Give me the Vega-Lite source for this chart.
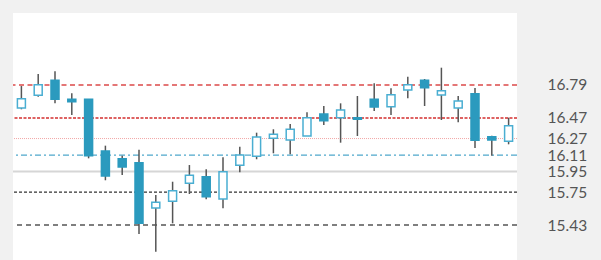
{
  "$schema": "https://vega.github.io/schema/vega-lite/v6.json",
  "autosize": {"type": "none"},
  "padding": {"left": 13, "top": 13, "right": 84, "bottom": 0},
  "width": 504,
  "height": 247,
  "background": "#f1f1f1",
  "config": {"view": {"fill": "white", "stroke": null}},
  "datasets": {
    "candles": [
      {"d": 1, "o": 16.567, "h": 16.78, "l": 16.554, "c": 16.657},
      {"d": 2, "o": 16.69, "h": 16.897, "l": 16.676, "c": 16.793},
      {"d": 3, "o": 16.836, "h": 16.923, "l": 16.612, "c": 16.651},
      {"d": 4, "o": 16.651, "h": 16.709, "l": 16.499, "c": 16.628},
      {"d": 5, "o": 16.651, "h": 16.651, "l": 16.078, "c": 16.104},
      {"d": 6, "o": 16.149, "h": 16.201, "l": 15.865, "c": 15.906},
      {"d": 7, "o": 16.074, "h": 16.104, "l": 15.916, "c": 15.994},
      {"d": 8, "o": 16.036, "h": 16.162, "l": 15.343, "c": 15.447},
      {"d": 9, "o": 15.596, "h": 15.722, "l": 15.172, "c": 15.651},
      {"d": 10, "o": 15.661, "h": 15.851, "l": 15.447, "c": 15.764},
      {"d": 11, "o": 15.836, "h": 16.013, "l": 15.732, "c": 15.913},
      {"d": 12, "o": 15.9, "h": 15.972, "l": 15.68, "c": 15.706},
      {"d": 13, "o": 15.683, "h": 16.088, "l": 15.593, "c": 15.948},
      {"d": 14, "o": 16.011, "h": 16.191, "l": 15.943, "c": 16.111},
      {"d": 15, "o": 16.098, "h": 16.327, "l": 16.069, "c": 16.285},
      {"d": 16, "o": 16.273, "h": 16.36, "l": 16.127, "c": 16.311},
      {"d": 17, "o": 16.256, "h": 16.411, "l": 16.117, "c": 16.36},
      {"d": 18, "o": 16.295, "h": 16.525, "l": 16.295, "c": 16.473},
      {"d": 19, "o": 16.508, "h": 16.586, "l": 16.402, "c": 16.443},
      {"d": 20, "o": 16.473, "h": 16.612, "l": 16.23, "c": 16.547},
      {"d": 21, "o": 16.473, "h": 16.683, "l": 16.295, "c": 16.457},
      {"d": 22, "o": 16.651, "h": 16.806, "l": 16.538, "c": 16.576},
      {"d": 23, "o": 16.579, "h": 16.758, "l": 16.499, "c": 16.696},
      {"d": 24, "o": 16.741, "h": 16.871, "l": 16.661, "c": 16.793},
      {"d": 25, "o": 16.836, "h": 16.848, "l": 16.586, "c": 16.764},
      {"d": 26, "o": 16.693, "h": 16.958, "l": 16.45, "c": 16.735},
      {"d": 27, "o": 16.567, "h": 16.683, "l": 16.428, "c": 16.635},
      {"d": 28, "o": 16.706, "h": 16.761, "l": 16.178, "c": 16.253},
      {"d": 29, "o": 16.288, "h": 16.298, "l": 16.104, "c": 16.256},
      {"d": 30, "o": 16.243, "h": 16.473, "l": 16.214, "c": 16.395}
    ]
  },
  "encoding": {
    "x": {"field": "d", "type": "ordinal", "axis": null, "scale": {"paddingInner": 0, "paddingOuter": 0}}
  },
  "layer": [
    {
      "data": {"values": [{"level": 15.95}]},
      "mark": {"type": "rule", "color": "#d6d6d6", "strokeWidth": 2},
      "encoding": {"x": null, "y": {"field": "level", "type": "quantitative", "scale": {"domain": [15.091, 17.489], "nice": false, "zero": false},
        "axis": {"orient": "right", "values": [15.43, 15.75, 15.95, 16.11, 16.27, 16.47, 16.79], "format": ".2f", "ticks": false, "domain": false, "grid": false, "title": null, "labelPadding": 30, "labelFont": "Lato", "labelFontSize": 15.5, "labelColor": "#555555", "labelOverlap": false, "labelBaseline": "middle", "labelFlush": false}}}
    },
    {
      "data": {"values": [{"level": 16.79}]},
      "mark": {"type": "rule", "color": "#dc4a4a", "strokeWidth": 1.5, "strokeDash": [5, 3.5]},
      "encoding": {"x": null, "y": {"field": "level", "type": "quantitative"}}
    },
    {
      "data": {"values": [{"level": 16.47}]},
      "mark": {"type": "rule", "color": "#d32f2f", "strokeWidth": 1.5, "strokeDash": [3, 1.5]},
      "encoding": {"x": null, "y": {"field": "level", "type": "quantitative"}}
    },
    {
      "data": {"values": [{"level": 16.27}]},
      "mark": {"type": "rule", "color": "#f2a6a6", "strokeWidth": 1, "strokeDash": [1, 1]},
      "encoding": {"x": null, "y": {"field": "level", "type": "quantitative"}}
    },
    {
      "data": {"values": [{"level": 16.11}]},
      "mark": {"type": "rule", "color": "#4fa8cc", "strokeWidth": 1.2, "strokeDash": [6, 3, 2, 3]},
      "encoding": {"x": null, "y": {"field": "level", "type": "quantitative"}}
    },
    {
      "data": {"values": [{"level": 15.75}]},
      "mark": {"type": "rule", "color": "#333333", "strokeWidth": 1.2, "strokeDash": [3, 2]},
      "encoding": {"x": null, "y": {"field": "level", "type": "quantitative"}}
    },
    {
      "data": {"values": [{"level": 15.43}]},
      "mark": {"type": "rule", "color": "#555555", "strokeWidth": 1.5, "strokeDash": [5, 4]},
      "encoding": {"x": null, "y": {"field": "level", "type": "quantitative"}}
    },
    {
      "data": {"name": "candles"},
      "mark": {"type": "rule", "color": "#555555", "strokeWidth": 1.5},
      "encoding": {
        "y": {"field": "l", "type": "quantitative"},
        "y2": {"field": "h"}
      }
    },
    {
      "data": {"name": "candles"},
      "mark": {"type": "bar", "size": 8, "stroke": "#45aad0", "strokeWidth": 1.5},
      "encoding": {
        "y": {"field": "o", "type": "quantitative"},
        "y2": {"field": "c"},
        "fill": {"condition": {"test": "datum.o > datum.c", "value": "#2b9abe"}, "value": "white"},
        "stroke": {"condition": {"test": "datum.o > datum.c", "value": "#2b9abe"}, "value": "#4aaed2"}
      }
    }
  ],
  "resolve": {"scale": {"y": "shared"}}
}
